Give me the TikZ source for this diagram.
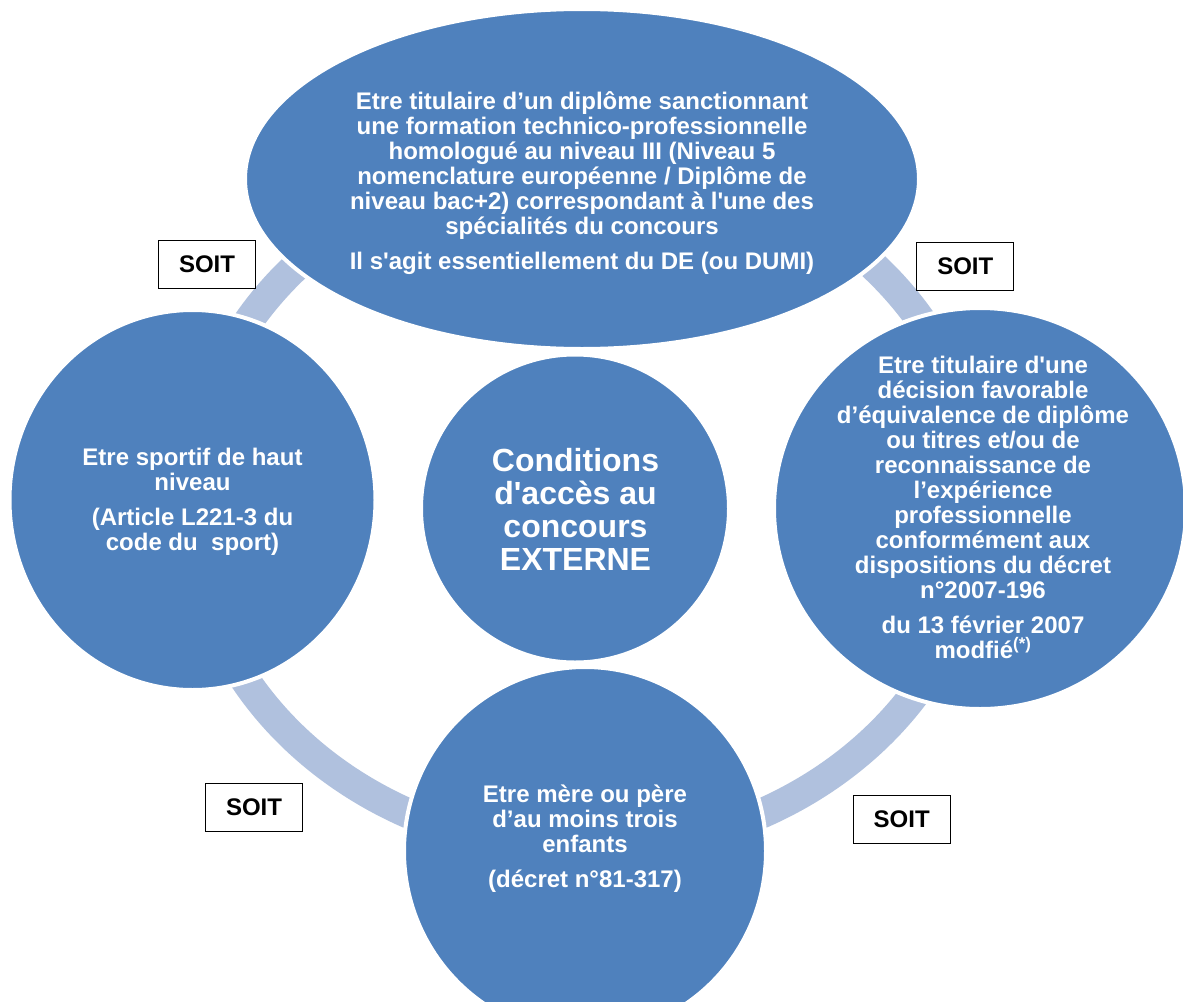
\documentclass[tikz,border=0pt]{standalone}
\usepackage{fontspec}
\newfontfamily\lsans{Liberation Sans}
\usetikzlibrary{shapes.geometric}
\definecolor{shapeblue}{RGB}{79,129,189}
\definecolor{ringblue}{RGB}{176,193,222}
\tikzset{
  blob/.style={ellipse, fill=shapeblue, draw=white, line width=4pt, inner sep=0pt, outer sep=0pt},
  txt/.style={text=white, align=center, inner sep=0pt, font=\lsans\bfseries\fontsize{24}{25}\selectfont},
  bigtxt/.style={text=white, align=center, inner sep=0pt, font=\lsans\bfseries\fontsize{32}{33}\selectfont},
  soitbox/.style={draw=black, line width=1pt, fill=white, minimum width=97pt, minimum height=48pt, inner sep=0pt, font=\lsans\bfseries\fontsize{24}{25}\selectfont},
  ring/.style={draw=ringblue, line width=30pt}
}
\begin{document}
\begin{tikzpicture}[x=1pt,y=-1pt]
\useasboundingbox (0,0) rectangle (1183,1001);
\clip (0,0) rectangle (1183,1001);
\fill[white] (0,0) rectangle (1183,1001);
% ring
\coordinate (rc) at (585,503);
\draw[ring] (rc) ellipse [x radius=395pt, y radius=347pt];
% shapes
\node[blob, minimum width=674pt, minimum height=340pt] (top) at (582,179) {};
\node[blob, minimum width=366pt, minimum height=380pt] (left) at (192.5,500) {};
\node[blob, minimum width=412pt, minimum height=401pt] (right) at (980,508.5) {};
\node[blob, minimum width=362pt, minimum height=368pt] (bottom) at (585,851) {};
\node[blob, minimum width=308pt, minimum height=308pt] (center) at (575,508.5) {};
% texts
\node[txt] (toptxt) at (582,183) {Etre titulaire d’un diplôme sanctionnant\\
une formation technico-professionnelle\\
homologué au niveau III (Niveau 5\\
nomenclature européenne / Diplôme de\\
niveau bac+2) correspondant à l'une des\\
spécialités du concours\\[9.5pt]
Il s'agit essentiellement du DE (ou DUMI)};
\node[txt] (lefttxt) at (192.5,501.5) {Etre sportif de haut\\ niveau\\[10pt] (Article L221-3 du\\ code du\ \ sport)};
\node[txt] (righttxt) at (983,507.5) {Etre titulaire d'une\\ décision favorable\\ d’équivalence de diplôme\\ ou titres et/ou de\\ reconnaissance de\\ l’expérience\\ professionnelle\\ conformément aux\\ dispositions du décret\\ n°2007-196\\[9.5pt] du 13 février 2007\\ modfié\textsuperscript{(*)}};
\node[txt] (bottomtxt) at (585,839) {Etre mère ou père\\ d’au moins trois\\ enfants\\[10pt] (décret n°81-317)};
\node[bigtxt] (centertxt) at (575.5,509.5) {Conditions\\ d'accès au\\ concours\\ EXTERNE};
% SOIT boxes
\node[soitbox] (soit1) at (207,264.2) {SOIT};
\node[soitbox] (soit2) at (965.3,266.2) {SOIT};
\node[soitbox] (soit3) at (254,807) {SOIT};
\node[soitbox] (soit4) at (901.7,819.5) {SOIT};
\end{tikzpicture}
\end{document}
